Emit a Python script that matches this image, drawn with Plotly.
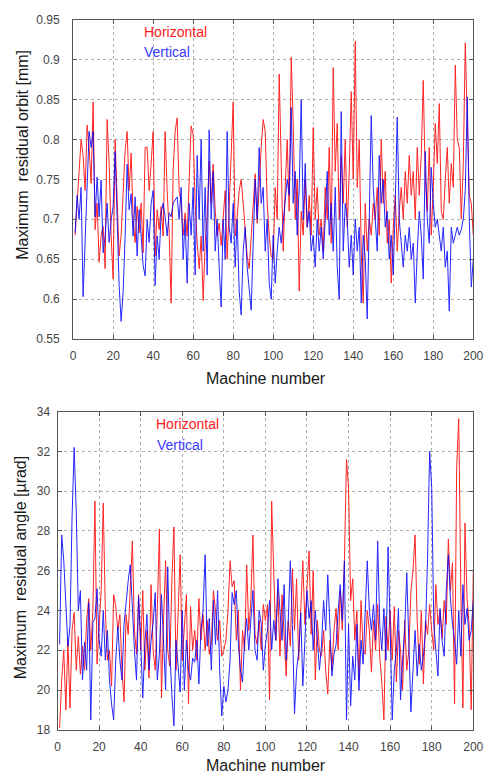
import plotly.graph_objects as go

W, H = 494, 783

machines = list(range(1, 201))

orbit_h = [
    0.68, 0.72, 0.76, 0.80, 0.78, 0.736, 0.818, 0.79, 0.745, 0.847,
    0.687, 0.72, 0.646, 0.68, 0.691, 0.638, 0.825, 0.77, 0.68, 0.625,
    0.80, 0.72, 0.654, 0.68, 0.732, 0.786, 0.81, 0.736, 0.783, 0.70,
    0.671, 0.716, 0.683, 0.72, 0.658, 0.79, 0.79, 0.736, 0.77, 0.81,
    0.654, 0.712, 0.687, 0.716, 0.679, 0.81, 0.736, 0.683, 0.595, 0.761,
    0.81, 0.827, 0.736, 0.72, 0.68, 0.708, 0.679, 0.75, 0.817, 0.806,
    0.72, 0.67, 0.638, 0.679, 0.598, 0.67, 0.703, 0.773, 0.72, 0.769,
    0.712, 0.679, 0.695, 0.667, 0.703, 0.736, 0.65, 0.72, 0.80, 0.847,
    0.679, 0.703, 0.736, 0.75, 0.72, 0.687, 0.654, 0.638, 0.679, 0.728,
    0.757, 0.695, 0.753, 0.79, 0.825, 0.81, 0.72, 0.679, 0.654, 0.65,
    0.74, 0.70, 0.882, 0.77, 0.66, 0.74, 0.80, 0.71, 0.903, 0.82,
    0.70, 0.75, 0.61, 0.71, 0.68, 0.75, 0.69, 0.73, 0.68, 0.815,
    0.70, 0.74, 0.68, 0.70, 0.66, 0.74, 0.70, 0.79, 0.67, 0.89,
    0.76, 0.82, 0.70, 0.78, 0.72, 0.80, 0.69, 0.76, 0.86, 0.75,
    0.923, 0.74, 0.80, 0.66, 0.595, 0.72, 0.66, 0.70, 0.68, 0.72,
    0.70, 0.74, 0.68, 0.80, 0.72, 0.76, 0.67, 0.70, 0.62, 0.69,
    0.73, 0.66, 0.71, 0.74, 0.70, 0.76, 0.72, 0.78, 0.73, 0.76,
    0.70, 0.79, 0.73, 0.78, 0.874, 0.75, 0.71, 0.79, 0.68, 0.74,
    0.82, 0.77, 0.845, 0.71, 0.70, 0.75, 0.79, 0.72, 0.77, 0.74,
    0.893, 0.80, 0.79, 0.70, 0.77, 0.921, 0.84, 0.73, 0.72, 0.68,
]

orbit_v = [
    0.683, 0.73, 0.70, 0.74, 0.603, 0.68, 0.76, 0.81, 0.79, 0.81,
    0.703, 0.753, 0.703, 0.749, 0.658, 0.679, 0.72, 0.671, 0.699, 0.716,
    0.785, 0.687, 0.617, 0.572, 0.609, 0.679, 0.769, 0.712, 0.732, 0.679,
    0.728, 0.654, 0.712, 0.679, 0.642, 0.629, 0.699, 0.671, 0.72, 0.736,
    0.617, 0.679, 0.65, 0.708, 0.72, 0.703, 0.679, 0.708, 0.703, 0.72,
    0.724, 0.728, 0.70, 0.74, 0.65, 0.70, 0.62, 0.72, 0.68, 0.74,
    0.63, 0.78, 0.70, 0.80, 0.66, 0.74, 0.63, 0.812, 0.70, 0.76,
    0.66, 0.70, 0.64, 0.59, 0.70, 0.65, 0.81, 0.69, 0.67, 0.72,
    0.64, 0.70, 0.61, 0.58, 0.66, 0.69, 0.64, 0.61, 0.586, 0.67,
    0.75, 0.70, 0.79, 0.72, 0.74, 0.66, 0.70, 0.62, 0.60, 0.68,
    0.62, 0.66, 0.69, 0.67, 0.70, 0.72, 0.75, 0.73, 0.84, 0.72,
    0.76, 0.68, 0.74, 0.85, 0.70, 0.77, 0.69, 0.71, 0.66, 0.68,
    0.64, 0.70, 0.66, 0.69, 0.65, 0.70, 0.76, 0.68, 0.72, 0.66,
    0.74, 0.64, 0.60, 0.835, 0.66, 0.72, 0.70, 0.64, 0.68, 0.63,
    0.70, 0.66, 0.69, 0.595, 0.68, 0.65, 0.575, 0.70, 0.83, 0.74,
    0.70, 0.66, 0.78, 0.72, 0.75, 0.69, 0.71, 0.65, 0.68, 0.63,
    0.72, 0.828, 0.70, 0.67, 0.64, 0.68, 0.66, 0.69, 0.65, 0.67,
    0.595, 0.66, 0.71, 0.68, 0.625, 0.785, 0.70, 0.67, 0.765, 0.72,
    0.69, 0.70, 0.683, 0.66, 0.69, 0.64, 0.66, 0.585, 0.69, 0.67,
    0.68, 0.69, 0.68, 0.687, 0.70, 0.736, 0.853, 0.70, 0.615, 0.65,
]

angle_h = [
    18.1, 20.5, 22.0, 19.0, 22.5, 19.1, 23.0, 23.9, 21.0, 22.7,
    20.8, 22.2, 21.0, 23.5, 24.6, 22.0, 24.0, 29.5, 21.3, 23.5,
    25.0, 29.4, 24.0, 21.5, 22.0, 20.2, 24.8, 24.2, 23.0, 23.8,
    21.0, 19.4, 23.8, 22.8, 25.0, 27.5, 23.0, 21.8, 24.8, 22.0,
    25.0, 21.0, 23.0, 20.6, 25.3, 22.0, 21.0, 24.0, 28.1, 19.6,
    23.5, 26.5, 22.0, 21.2, 25.5, 28.2, 21.0, 24.5, 26.8, 21.5,
    23.5, 24.8, 19.3, 24.2, 22.0, 23.0, 21.5, 24.6, 22.5, 23.8,
    22.0, 23.5, 21.8, 22.4, 25.0, 24.0, 22.5, 23.5, 21.7, 22.0,
    22.5, 24.0, 26.5, 25.2, 25.5, 22.5, 24.0, 20.0, 23.0, 22.0,
    26.3, 23.0, 24.5, 27.8, 22.8, 22.3, 23.5, 22.0, 24.3, 23.5,
    24.3, 19.5, 29.5, 25.9, 22.5, 25.0, 21.7, 24.8, 22.8, 20.7,
    23.5, 22.2, 26.1, 23.0, 25.6, 21.5, 24.0, 26.5, 23.3, 25.0,
    27.0, 22.8, 26.0, 20.5, 23.5, 22.0, 21.7, 23.0, 21.0, 19.8,
    22.5, 21.0, 23.0, 24.1, 22.0, 25.0, 23.0, 26.5, 31.6, 30.2,
    24.5, 25.6, 22.5, 24.0, 20.5, 24.5, 22.0, 21.8, 24.0, 23.0,
    20.9, 23.5, 22.0, 24.3, 21.7, 20.4, 18.5, 23.7, 22.0, 24.0,
    21.5, 24.2, 20.4, 23.0, 22.0, 20.0, 23.5, 21.0, 22.0, 25.0,
    26.0, 27.8, 23.5, 21.3, 24.0, 20.3, 23.5, 22.8, 24.3, 23.0,
    22.0, 25.3, 23.3, 24.0, 22.6, 24.5, 23.3, 27.6, 25.0, 26.4,
    19.3, 31.2, 33.65, 25.0, 19.1, 28.4, 24.6, 23.3, 19.0, 26.0,
]

angle_v = [
    22.3, 27.8, 26.5, 24.5, 22.2, 23.2, 28.7, 32.2, 29.0, 24.0,
    25.0, 20.5, 22.4, 21.0, 24.4, 18.5, 23.4, 23.6, 25.1, 22.5,
    21.7, 24.0, 21.5, 23.0, 20.5, 19.3, 18.5, 21.5, 23.2, 21.5,
    20.5, 23.3, 24.5, 25.5, 26.3, 24.0, 22.0, 20.5, 24.7, 22.5,
    19.6, 22.3, 23.8, 21.0, 22.5, 23.4, 24.9, 20.5, 21.8, 24.8,
    22.0, 20.0, 26.2, 22.0, 19.8, 18.2, 22.5, 21.0, 19.9, 24.0,
    20.0, 22.5, 21.0, 20.5, 21.6, 21.4, 22.5, 20.3, 23.0, 24.0,
    26.8, 22.2, 23.6, 21.0, 24.5, 22.3, 25.0, 21.0, 18.7, 20.2,
    19.4, 20.0, 21.5, 24.9, 24.3, 25.0, 22.3, 21.0, 20.4, 22.5,
    23.6, 22.0, 23.5, 25.0, 22.0, 21.5, 24.0, 23.3, 21.0, 22.3,
    23.0, 24.5, 22.0, 23.5, 22.5, 25.6, 24.0, 22.5, 25.3, 21.5,
    23.5, 26.5, 23.3, 18.8, 21.0, 21.9, 23.9, 20.2, 22.5, 25.0,
    23.6, 24.5, 22.0, 24.0, 22.5, 21.0, 22.3, 24.5, 23.0, 25.8,
    23.3, 20.7, 21.8, 22.3, 24.0, 25.3, 23.5, 26.5, 18.5, 23.3,
    19.2, 21.7, 20.5, 23.3, 20.0, 22.5, 21.3, 23.5, 26.5, 24.0,
    23.0, 24.3, 22.5, 27.5, 23.3, 22.0, 24.1, 21.5, 27.2, 23.3,
    18.5, 21.0, 22.0, 24.1, 19.5, 21.5, 23.0, 25.9, 22.5, 18.9,
    21.0, 23.0, 20.7, 22.3, 21.0, 21.7, 23.0, 26.6, 32.0, 30.2,
    23.3, 22.0, 20.7, 24.1, 22.5, 21.7, 25.0, 26.8, 24.6, 23.3,
    22.5, 21.3, 24.0, 21.7, 25.3, 23.3, 24.1, 22.5, 23.0, 24.5,
]

x_ticks = list(range(0, 201, 20))
orbit_ticks = [0.55, 0.6, 0.65, 0.7, 0.75, 0.8, 0.85, 0.9, 0.95]
orbit_ticktext = ["0.55", "0.6", "0.65", "0.7", "0.75", "0.8", "0.85", "0.9", "0.95"]
angle_ticks = [18, 20, 22, 24, 26, 28, 30, 32, 34]

RED = "#ff0000"
BLUE = "#0000ff"
FONT = "Liberation Sans, Arial, sans-serif"

fig = go.Figure()
fig.add_trace(go.Scatter(x=machines[:len(orbit_h)], y=orbit_h, mode="lines",
                         line=dict(color=RED, width=1), opacity=0.85,
                         xaxis="x", yaxis="y", name="Horizontal"))
fig.add_trace(go.Scatter(x=machines[:len(orbit_v)], y=orbit_v, mode="lines",
                         line=dict(color=BLUE, width=1), opacity=0.85,
                         xaxis="x", yaxis="y", name="Vertical"))
fig.add_trace(go.Scatter(x=machines[:len(angle_h)], y=angle_h, mode="lines",
                         line=dict(color=RED, width=1), opacity=0.85,
                         xaxis="x2", yaxis="y2", name="Horizontal"))
fig.add_trace(go.Scatter(x=machines[:len(angle_v)], y=angle_v, mode="lines",
                         line=dict(color=BLUE, width=1), opacity=0.85,
                         xaxis="x2", yaxis="y2", name="Vertical"))


def px_x(p):
    return p / W


def px_y(p):
    return 1 - p / H


common = dict(showline=True, linecolor="#555555", linewidth=1, mirror="ticks",
              ticks="inside", ticklen=4, tickcolor="#555555", tickwidth=1,
              showgrid=True, gridcolor="#b0b0b0", griddash="dot", gridwidth=1,
              zeroline=False, tickfont=dict(family=FONT, size=12, color="#444444"))

fig.update_layout(
    width=W, height=H,
    margin=dict(l=0, r=0, t=0, b=0),
    paper_bgcolor="white", plot_bgcolor="white",
    showlegend=False,
    font=dict(family=FONT),
    xaxis=dict(domain=[px_x(72), px_x(483)], range=[0, 200], tickvals=x_ticks,
               anchor="y", ticklabelstandoff=6, **common),
    yaxis=dict(domain=[px_y(338), px_y(13)], range=[0.55, 0.95], tickvals=orbit_ticks,
               ticktext=orbit_ticktext, anchor="x", ticklabelstandoff=10, **common),
    xaxis2=dict(domain=[px_x(56), px_x(483)], range=[0, 200], tickvals=x_ticks,
                anchor="y2", ticklabelstandoff=6, **common),
    yaxis2=dict(domain=[px_y(736), px_y(412)], range=[18, 34], tickvals=angle_ticks,
                anchor="x2", ticklabelstandoff=4, **common),
)

annots = [
    dict(text="Machine number", x=px_x(270), y=px_y(378), size=16, color="#1a1a1a", angle=0),
    dict(text="Machine number", x=px_x(270), y=px_y(772), size=16, color="#1a1a1a", angle=0),
    dict(text="Maximum  residual orbit [mm]", x=px_x(20), y=px_y(150), size=16, color="#1a1a1a", angle=-90),
    dict(text="Maximum  residual angle [µrad]", x=px_x(18), y=px_y(571), size=16, color="#1a1a1a", angle=-90),
]
for a in annots:
    fig.add_annotation(text=a["text"], x=a["x"], y=a["y"], xref="paper", yref="paper",
                       xanchor="center", yanchor="middle", showarrow=False,
                       textangle=a["angle"], font=dict(family=FONT, size=a["size"], color=a["color"]))

legend_items = [
    ("Horizontal", "#ff1a1a", 143, 25),
    ("Vertical", "#3a3aff", 143, 46),
    ("Horizontal", "#ff1a1a", 155, 425),
    ("Vertical", "#3a3aff", 156, 446),
]
for txt, col, lx, ly in legend_items:
    fig.add_annotation(text=txt, x=px_x(lx), y=px_y(ly), xref="paper", yref="paper",
                       xanchor="left", yanchor="middle", showarrow=False,
                       font=dict(family=FONT, size=14, color=col))

fig.write_html("out.html", config={"displayModeBar": False},
               post_script="document.body.style.margin='0';document.body.style.overflow='hidden';")
